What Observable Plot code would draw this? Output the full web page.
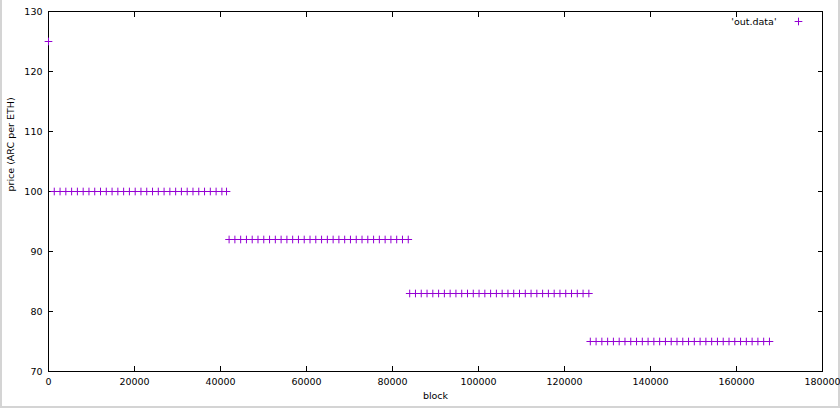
<!DOCTYPE html>
<html>
<head>
<meta charset="utf-8">
<script src="https://cdn.jsdelivr.net/npm/d3@7"></script>
<script src="https://cdn.jsdelivr.net/npm/@observablehq/plot@0.6"></script>
<style>
  html, body { margin: 0; padding: 0; background: #fff; }
  #wrap { position: relative; width: 840px; height: 408px; overflow: hidden; background: #fff; }
  #wrap svg { position: absolute; left: 0; top: 0; }
  .edge { position: absolute; background: #d4d4d4; }
</style>
</head>
<body>
<div id="wrap">
  <div class="edge" style="left:0;top:0;width:2px;height:408px"></div>
  <div class="edge" style="left:0;top:406px;width:840px;height:2px"></div>
  <div class="edge" style="left:838px;top:0;width:2px;height:408px"></div>
</div>
<script>
// Series: block number and price (ARC per ETH)
const blocksStart = [0];
const pricesStart = [125];
const blocks100 = [1344,2688,4032,5376,6720,8064,9408,10752,12096,13440,14784,16128,17472,18816,20160,21504,22848,24192,25536,26880,28224,29568,30912,32256,33600,34944,36288,37632,38976,40320,41400];
const blocks92 = [42000,43344,44688,46032,47376,48720,50064,51408,52752,54096,55440,56784,58128,59472,60816,62160,63504,64848,66192,67536,68880,70224,71568,72912,74256,75600,76944,78288,79632,80976,82320,83664];
const blocks83 = [84000,85344,86688,88032,89376,90720,92064,93408,94752,96096,97440,98784,100128,101472,102816,104160,105504,106848,108192,109536,110880,112224,113568,114912,116256,117600,118944,120288,121632,122976,124320,125664];
const blocks75 = [126000,127344,128688,130032,131376,132720,134064,135408,136752,138096,139440,140784,142128,143472,144816,146160,147504,148848,150192,151536,152880,154224,155568,156912,158256,159600,160944,162288,163632,164976,166320,167664];
const levelPrices = [100, 92, 83, 75];
const xTicks = [0,20000,40000,60000,80000,100000,120000,140000,160000,180000];
const yTicks = [70,80,90,100,110,120,130];
const seriesName = "'out.data'";
const xLabel = "block";
const yLabel = "price (ARC per ETH)";

const data = [];
blocksStart.forEach((b, i) => data.push({block: b, price: pricesStart[i]}));
[blocks100, blocks92, blocks83, blocks75].forEach((arr, k) =>
  arr.forEach(b => data.push({block: b, price: levelPrices[k]})));

const color = "#9400d3";
const font = "DejaVu Sans, sans-serif";

const chart = Plot.plot({
  width: 840,
  height: 408,
  marginLeft: 48,
  marginRight: 18,
  marginTop: 11,
  marginBottom: 37,
  style: {fontFamily: font, fontSize: "9.5px", color: "#000", background: "transparent"},
  x: {domain: [0, 180000], ticks: xTicks},
  y: {domain: [70, 130], ticks: yTicks},
  marks: [
    Plot.axisX({anchor: "bottom", ticks: xTicks, tickSize: -5, tickPadding: 12, tickFormat: d => String(d), label: null}),
    Plot.axisX({anchor: "top", ticks: xTicks, tickSize: -5, text: null, label: null}),
    Plot.axisY({anchor: "left", ticks: yTicks, tickSize: -5, tickPadding: 11, tickFormat: d => String(d), label: null}),
    Plot.axisY({anchor: "right", ticks: yTicks, tickSize: -5, text: null, label: null}),
    Plot.frame({stroke: "#000", strokeWidth: 1}),
    Plot.dot(data, {x: "block", y: "price", symbol: "plus", r: 2.6, stroke: color, strokeWidth: 1}),
    Plot.text([xLabel], {frameAnchor: "bottom", dy: 27, fontSize: 9.5, fill: "#000"}),
    Plot.text([yLabel], {frameAnchor: "left", rotate: -90, dx: -38, fontSize: 9.5, fill: "#000"}),
    Plot.text([seriesName], {frameAnchor: "top-right", dx: -46, dy: 10, textAnchor: "end", lineAnchor: "middle", fontSize: 9.5, fill: "#000"}),
    Plot.dot([seriesName], {frameAnchor: "top-right", dx: -24, dy: 10, symbol: "plus", r: 2.6, stroke: color, strokeWidth: 1})
  ]
});
document.getElementById("wrap").appendChild(chart);
</script>
</body>
</html>
